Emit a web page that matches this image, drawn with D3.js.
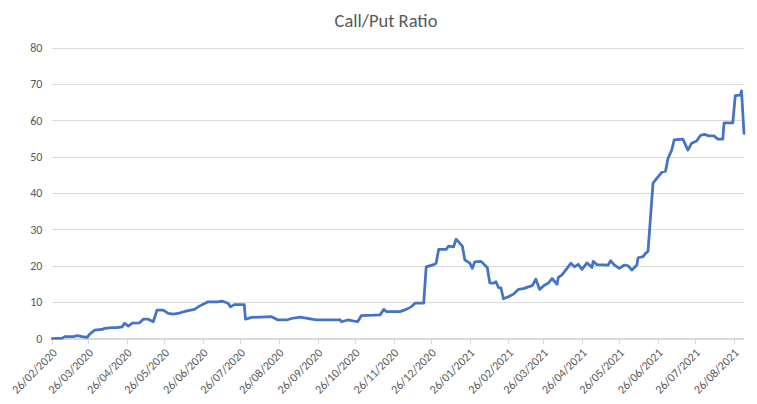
<!DOCTYPE html>
<html>
<head>
<meta charset="utf-8">
<script src="https://cdn.jsdelivr.net/npm/d3@7"></script>
<style>
  html, body { margin: 0; padding: 0; background: #fff; }
  svg { display: block; }
</style>
</head>
<body>
<svg id="chart" width="757" height="404"></svg>
<script>
// ---- Data ----
const title = "Call/Put Ratio";
const dates = [
  "2020-02-26","2020-03-05","2020-03-07","2020-03-14","2020-03-17","2020-03-21","2020-03-25","2020-03-27","2020-03-31",
  "2020-04-06","2020-04-08","2020-04-14","2020-04-18","2020-04-22","2020-04-24","2020-04-27","2020-04-30",
  "2020-05-06","2020-05-09","2020-05-13","2020-05-17","2020-05-20","2020-05-25","2020-05-29",
  "2020-06-02","2020-06-07","2020-06-13","2020-06-19","2020-06-23","2020-06-30",
  "2020-07-08","2020-07-11","2020-07-16","2020-07-18","2020-07-21","2020-07-29","2020-07-30",
  "2020-08-04","2020-08-20","2020-08-25","2020-09-01","2020-09-05","2020-09-12","2020-09-20","2020-09-25",
  "2020-10-14","2020-10-15","2020-10-20","2020-10-28","2020-10-31",
  "2020-11-10","2020-11-15","2020-11-18","2020-11-20","2020-12-01","2020-12-06","2020-12-10","2020-12-13",
  "2020-12-20","2020-12-22","2020-12-28","2020-12-30",
  "2021-01-01","2021-01-07","2021-01-09","2021-01-13","2021-01-15","2021-01-20","2021-01-22","2021-01-26","2021-01-28","2021-01-30",
  "2021-02-04","2021-02-09","2021-02-11","2021-02-14","2021-02-16","2021-02-18","2021-02-20","2021-02-22","2021-02-26",
  "2021-03-02","2021-03-06","2021-03-10","2021-03-14","2021-03-17","2021-03-20","2021-03-23","2021-03-27","2021-03-30",
  "2021-04-02","2021-04-06","2021-04-07","2021-04-10","2021-04-14","2021-04-17","2021-04-20","2021-04-23","2021-04-26","2021-04-30",
  "2021-05-04","2021-05-05","2021-05-08","2021-05-17","2021-05-19","2021-05-22","2021-05-26","2021-05-30",
  "2021-06-02","2021-06-05","2021-06-09","2021-06-10","2021-06-14","2021-06-16","2021-06-18","2021-06-22","2021-06-25","2021-06-29",
  "2021-07-02","2021-07-04","2021-07-07","2021-07-09","2021-07-16","2021-07-20","2021-07-23","2021-07-27","2021-07-30",
  "2021-08-02","2021-08-06","2021-08-10","2021-08-13","2021-08-17","2021-08-18","2021-08-25","2021-08-27","2021-08-31",
  "2021-09-01","2021-09-03"
];
const ratios = [
  0.0,0.1,0.5,0.5,0.8,0.5,0.3,1.2,2.3,
  2.5,2.8,3.0,3.0,3.2,4.2,3.4,4.2,
  4.3,5.3,5.3,4.6,7.8,7.8,6.9,
  6.7,7.0,7.6,8.0,8.9,10.1,
  10.1,10.3,9.7,8.7,9.3,9.3,5.3,
  5.8,6.0,5.1,5.1,5.5,5.9,5.4,5.1,
  5.1,4.6,5.1,4.6,6.3,
  6.4,6.5,8.0,7.4,7.4,8.0,8.7,9.7,
  9.7,19.7,20.3,20.7,
  24.5,24.5,25.4,25.2,27.3,25.4,21.6,20.7,19.3,21.1,
  21.2,19.5,15.3,15.2,15.6,14.0,13.9,10.9,11.5,
  12.2,13.5,13.7,14.2,14.5,16.3,13.5,14.7,15.2,
  16.5,14.9,16.8,17.5,19.3,20.7,19.7,20.4,19.0,20.8,
  19.5,21.2,20.3,20.2,21.4,20.2,19.3,20.2,
  20.0,18.8,20.2,22.2,22.5,23.4,24.0,42.7,44.0,45.7,
  46.0,49.5,51.8,54.6,54.8,51.8,53.7,54.3,55.8,
  56.1,55.7,55.7,54.8,54.8,59.3,59.3,66.8,66.9,
  68.1,56.4
];
const yTicks = [0,10,20,30,40,50,60,70,80];
const xTickLabels = [
  "26/02/2020","26/03/2020","26/04/2020","26/05/2020","26/06/2020","26/07/2020","26/08/2020",
  "26/09/2020","26/10/2020","26/11/2020","26/12/2020","26/01/2021","26/02/2021","26/03/2021",
  "26/04/2021","26/05/2021","26/06/2021","26/07/2021","26/08/2021"
];

// ---- Drawing ----
(function () {
  const parseISO = d3.timeParse("%Y-%m-%d");
  const parseDMY = d3.timeParse("%d/%m/%Y");
  const data = dates.map((d, i) => ({ date: parseISO(d), value: ratios[i] }));
  const tickDates = xTickLabels.map(parseDMY);

  const svg = d3.select("#chart");
  const pLeft = 52.3, pRight = 744, pTop = 47.5, pBottom = 338.5;
  const font = "Calibri, Carlito, Lato, 'Open Sans', sans-serif";

  const x = d3.scaleTime()
    .domain(d3.extent(data, d => d.date))
    .range([pLeft, pRight]);
  const y = d3.scaleLinear().domain([0, 80]).range([pBottom, pTop]);

  svg.append("rect").attr("width", 757).attr("height", 404).attr("fill", "#fff");

  // Title
  svg.append("text")
    .attr("x", 386).attr("y", 27)
    .attr("text-anchor", "middle")
    .attr("font-family", font)
    .attr("font-size", 18.5)
    .attr("fill", "#595959")
    .text(title);

  // Y axis gridlines + labels
  const yAxis = d3.axisLeft(y).tickValues(yTicks).tickSize(-(pRight - pLeft)).tickPadding(10);
  const gy = svg.append("g").attr("transform", `translate(${pLeft},0)`).call(yAxis);
  gy.select(".domain").remove();
  gy.selectAll(".tick line").attr("stroke", "#D9D9D9").attr("stroke-width", 1)
    .attr("shape-rendering", "crispEdges");
  gy.selectAll(".tick text")
    .attr("font-family", font).attr("font-size", 12).attr("fill", "#595959");

  // X axis
  const xAxis = d3.axisBottom(x).tickValues(tickDates).tickSize(5)
    .tickFormat((d, i) => xTickLabels[i]);
  const gx = svg.append("g").attr("transform", `translate(0,${pBottom})`).call(xAxis);
  gx.select(".domain").attr("stroke", "#D9D9D9").attr("shape-rendering", "crispEdges")
    .attr("d", `M${pLeft},0H${pRight}`);
  gx.selectAll(".tick line").attr("stroke", "#D9D9D9").attr("shape-rendering", "crispEdges");
  gx.selectAll(".tick text")
    .attr("font-family", font).attr("font-size", 12).attr("fill", "#595959")
    .attr("text-anchor", "end")
    .attr("dy", null)
    .attr("transform", "translate(3,13) rotate(-45)")
    .attr("y", 0).attr("x", 0)
    .attr("dominant-baseline", "middle");

  // Line
  const line = d3.line().x(d => x(d.date)).y(d => y(d.value));
  svg.append("path")
    .datum(data)
    .attr("fill", "none")
    .attr("stroke", "#4472C4")
    .attr("stroke-width", 2.75)
    .attr("stroke-linejoin", "round")
    .attr("stroke-linecap", "round")
    .attr("d", line);
})();
</script>
</body>
</html>
